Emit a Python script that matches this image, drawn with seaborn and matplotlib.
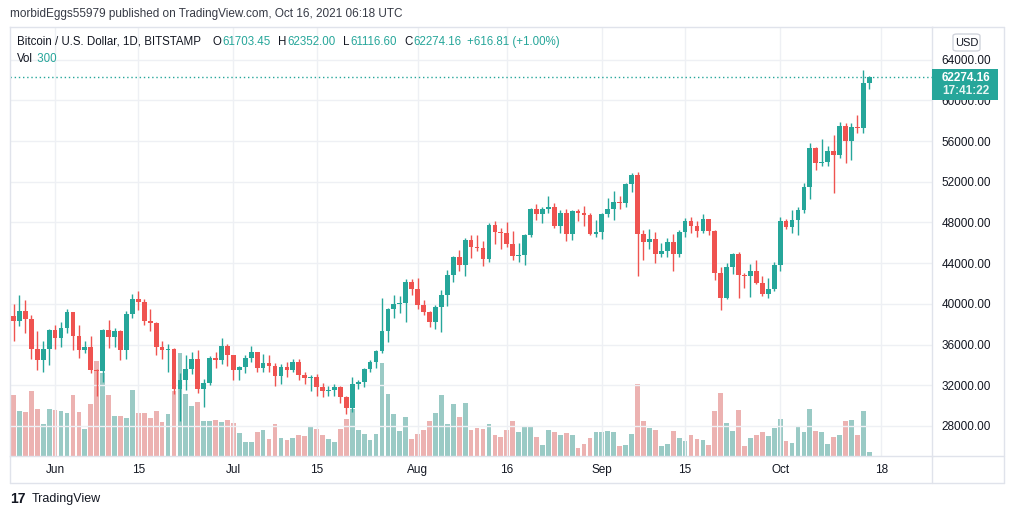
import numpy as np
import pandas as pd
import matplotlib
matplotlib.use("Agg")
import matplotlib.pyplot as plt
from matplotlib.patches import Rectangle, FancyBboxPatch
from matplotlib.lines import Line2D
import seaborn as sns

# BTC/USD daily candles, Bitstamp, 2021-05-25 .. 2021-10-16
start_date = "2021-05-25"
end_date = "2021-10-16"

opens = [
    38800, 38300, 39300, 38500, 35600, 34500, 35600,
    37400, 36600, 37600, 39200, 36800, 35500, 35800, 33500, 33400, 37400, 36700, 37300, 35500, 39000, 40500,
    40200, 38300, 38100, 35800, 35500, 35600, 31600, 32500, 33600, 34600, 31600, 32200, 34700, 34500, 35900,
    35000, 33500, 33800, 34700, 35300, 33700, 34200, 33900, 32900, 33800, 33500, 34300, 33000, 32700, 32800,
    31800, 31400, 31500, 31800, 30800, 29800, 32100, 32300, 33600, 34300, 35400, 37300, 39500, 40000, 40050, 42200,
    41500, 39900, 39200, 38200, 39700, 40900, 42800, 44600, 43800, 46300, 45600, 45500, 44400, 47800, 47100,
    47000, 45900, 44700, 44800, 46800, 49300, 48800, 49300, 49500, 47700, 48900, 46900, 49100, 48900, 48700, 46900,
    47100, 48800, 49300, 50000, 49900, 51800, 52700, 46900, 46100, 46400, 44900, 45200, 46100, 44900, 47100,
    48100, 47700, 47200, 48300, 47200, 43000, 40600, 43600, 44900, 42800, 42700, 43200, 42100, 41000, 41500,
    43800, 48100, 47600, 48200, 49200, 51500, 55300, 53800, 53900, 55000, 54600, 57500, 56000, 57400, 57300, 61703.45,
]
highs = [
    40000, 40900, 40400, 38900, 37300, 36400, 37500,
    37900, 38200, 39500, 39250, 37900, 36400, 36800, 33600, 37500, 38400, 37600, 37400, 39300, 41000, 41300,
    40500, 39500, 38200, 36400, 36100, 35700, 33200, 35000, 35300, 35500, 32600, 34900, 35300, 36600, 36100,
    35000, 33900, 35000, 35900, 35300, 35100, 35000, 34200, 34100, 34300, 34600, 34600, 33300, 33000, 33100,
    32200, 31900, 32100, 31900, 30900, 32800, 32500, 33700, 34500, 35500, 40600, 39600, 40900, 40800, 42400, 42400,
    42500, 40400, 39300, 39900, 41400, 43300, 44700, 45300, 46500, 46750, 46750, 46150, 47950, 48150, 47450,
    48050, 47200, 45950, 46850, 49450, 49800, 49500, 50600, 49900, 49200, 49300, 49200, 49300, 49600, 48950, 48250,
    48950, 50400, 51100, 50600, 51900, 52850, 52950, 47300, 47400, 47050, 45950, 46450, 46850, 47250, 48450,
    48550, 48150, 48800, 48350, 47300, 43600, 44000, 45000, 45100, 43000, 43900, 44300, 42700, 42550, 44100,
    48500, 48300, 49250, 49500, 51900, 55800, 55400, 56200, 55500, 56600, 57900, 57800, 57800, 58600, 63000, 62352.00,
]
lows = [
    36400, 37800, 37100, 34600, 33500, 33300, 34000,
    35600, 35800, 37100, 35500, 34700, 35200, 33200, 30900, 32300, 35700, 35800, 34500, 34600, 38600, 39400,
    37900, 37300, 35000, 34600, 33300, 31100, 28500, 31500, 33100, 31200, 29900, 32000, 33700, 34100, 33900,
    32500, 32500, 33200, 34300, 33300, 33300, 33300, 31950, 32100, 32800, 33300, 32500, 32100, 31400, 30950,
    30850, 30950, 30950, 30300, 29200, 29400, 31600, 31850, 33300, 33700, 35200, 36300, 38600, 39100, 38200, 40900,
    39500, 38900, 37700, 37500, 37200, 39800, 42200, 43200, 42700, 44500, 45200, 43700, 44100, 45900, 45400,
    45600, 44300, 44100, 43800, 46600, 48250, 47950, 48950, 47450, 46950, 46150, 46250, 48150, 47650, 46750, 46550,
    46350, 48550, 48250, 49300, 49500, 51000, 42700, 44300, 45400, 44000, 44600, 44600, 43200, 44600, 46550,
    46950, 46550, 46950, 46750, 42350, 39400, 40500, 42900, 40600, 41600, 40700, 41950, 40800, 40600, 41300,
    43200, 47350, 46950, 46750, 48950, 50300, 53150, 53550, 53550, 50900, 54350, 53850, 54150, 56800, 56800, 61116.60,
]
closes = [
    38300, 39300, 38500, 35600, 34500, 35600, 37400,
    36600, 37600, 39200, 36800, 35500, 35800, 33500, 33400, 37400, 36700, 37300, 35500, 39000, 40500, 40200,
    38300, 38100, 35800, 35500, 35600, 31600, 32500, 33600, 34600, 31600, 32200, 34700, 34500, 35900, 35000,
    33500, 33800, 34700, 35300, 33700, 34200, 33900, 32900, 33800, 33500, 34300, 33000, 32700, 32800, 31800,
    31400, 31500, 31800, 30800, 29800, 32100, 32300, 33600, 34300, 35400, 37300, 39500, 40000, 40050, 42200, 41500,
    39900, 39200, 38200, 39700, 40900, 42800, 44600, 43800, 46300, 45600, 45500, 44400, 47800, 47100, 47000,
    45900, 44700, 44800, 46800, 49300, 48800, 49300, 49500, 47700, 48900, 46900, 49100, 48900, 48700, 46900, 47100,
    48800, 49300, 50000, 49900, 51800, 52700, 46900, 46100, 46400, 44900, 45200, 46100, 44900, 47100, 48100,
    47700, 47200, 48300, 47200, 43000, 40600, 43600, 44900, 42800, 42700, 43200, 42100, 41000, 41500, 43800,
    48100, 47600, 48200, 49200, 51500, 55300, 53800, 53900, 55000, 54600, 57500, 56000, 57400, 57300, 61703.45, 62274.16,
]
volumes = [
    4575, 3375, 3300, 4875, 3525, 2400, 3525, 3450, 3375, 3225, 4575, 3300, 2025, 3900, 7125, 6225, 4575,
    3000, 3000, 2850, 4950, 3225, 3225, 2850, 3375,
    2550, 3150, 4875, 7725, 4650, 3750, 4050, 2625, 2625, 2700, 2550, 2700, 2475, 1725, 1050, 1050, 1800,
    1950, 1275, 2400, 1350, 1200, 1350, 1575, 1500, 2250,
    2025, 1575, 1275, 1050, 2025, 2775, 3525, 1950, 1650, 1200, 1650, 6975, 4650, 3150, 1875, 2925, 1275,
    1650, 1950, 2625, 3225, 4575, 2400, 3900, 2925, 3975,
    1950, 2100, 2025, 2400, 1575, 1425, 1950, 2625, 1800, 2250, 2250, 1425, 825, 1950, 1800, 1575, 1725,
    1575, 600, 900, 1350, 1800, 1800, 1875, 1800, 750,
    825, 1650, 5400, 2625, 2100, 1950, 750, 900, 1875, 1350, 1125, 1575, 1275, 1200, 825, 3375, 4725, 2475,
    1875, 3450, 750, 1350, 1575, 1800, 1500, 2100,
    2775, 1125, 975, 2175, 1800, 3525, 1875, 1800, 900, 1425, 1575, 2625, 2700, 1575, 3375, 300,
]

tick_dates = ["2021-06-01", "2021-06-15", "2021-07-01", "2021-07-15", "2021-08-01",
              "2021-08-16", "2021-09-01", "2021-09-15", "2021-10-01", "2021-10-18"]
tick_labels = ["Jun", "15", "Jul", "15", "Aug", "16", "Sep", "15", "Oct", "18"]
price_ticks = [28000, 32000, 36000, 40000, 44000, 48000, 52000, 56000, 60000, 64000]

UP = "#26a69a"
DOWN = "#ef5350"
TXT = "#131722"
BORDER = "#e0e3eb"

dates = pd.date_range(start_date, end_date, freq="D")
df = pd.DataFrame({"date": dates, "open": opens, "high": highs, "low": lows,
                   "close": closes, "vol": volumes})
df["i"] = (df["date"] - dates[0]).dt.days
df["dir"] = np.where(df["close"] >= df["open"], "up", "down")
colors = [UP if d == "up" else DOWN for d in df["dir"]]

sns.set_theme(style="white")
plt.rcParams["font.family"] = ["Liberation Sans", "DejaVu Sans"]

W, H = 1012, 519
fig = plt.figure(figsize=(W / 100, H / 100), dpi=100)
fig.patch.set_facecolor("white")


def fx(x):
    return x / W


def fy(y):
    return 1 - y / H


ax = fig.add_axes([fx(10), fy(456), (932 - 10) / W, (456 - 27) / H])
ax2 = ax.twinx()

# volume histogram (behind candles)
sns.barplot(data=df, x="i", y="vol", hue="dir", palette={"up": UP, "down": DOWN},
            native_scale=True, dodge=False, errorbar=None, width=0.8, alpha=0.5,
            linewidth=0, legend=False, ax=ax2)
ax2.set_ylim(0, 429 * 75)
ax2.set_yticks([])
ax2.set_ylabel("")
ax2.set_xlabel("")
for s in ax2.spines.values():
    s.set_visible(False)

ax.set_zorder(ax2.get_zorder() + 1)
ax.patch.set_visible(False)

# candles
ax.vlines(df["i"], df["low"], df["high"], colors=colors, lw=1, zorder=3)
body_low = np.minimum(df["open"], df["close"])
body_h = np.maximum(np.abs(df["close"] - df["open"]), 80)
ax.bar(df["i"], body_h, bottom=body_low, width=0.8, color=colors, lw=0, zorder=4)

ax.axhline(closes[-1], color=UP, ls=(0, (1, 2)), lw=1, zorder=2)

ax.set_ylim(25050, 67214)
ax.set_xlim(-0.59, 154.55)

tick_idx = [(pd.Timestamp(d) - dates[0]).days for d in tick_dates]
ax.set_xticks(tick_idx)
ax.set_xticklabels(tick_labels)
ax.set_yticks(price_ticks)
ax.set_yticklabels([f"{p:.2f}" for p in price_ticks])
ax.yaxis.tick_right()
ax.tick_params(axis="y", length=0, pad=7, labelsize=8.5, labelcolor=TXT)
ax.tick_params(axis="x", length=0, pad=6, labelsize=8.5, labelcolor=TXT)
ax.grid(True, color="#eef0f4", lw=1, zorder=0)
ax.set_axisbelow(True)
for s in ax.spines.values():
    s.set_color(BORDER)
    s.set_linewidth(1)

# widget frame
frame = [((932, 1004), (27, 27)), ((932, 1004), (456, 456)), ((1004, 1004), (27, 483)),
         ((10, 1004), (483, 483)), ((10, 10), (456, 483)), ((932, 932), (456, 483))]
for (xa, xb), (ya, yb) in frame:
    fig.add_artist(Line2D([fx(xa), fx(xb)], [fy(ya), fy(yb)], transform=fig.transFigure,
                          color=BORDER, lw=1))

# last price label
fig.add_artist(Rectangle((fx(932), fy(100)), 66 / W, 31 / H, transform=fig.transFigure,
                         facecolor=UP, edgecolor="none", zorder=10))
fig.text(fx(966), fy(78), "62274.16", color="white", fontsize=8.5, fontweight="bold",
         ha="center", va="center", zorder=11)
fig.text(fx(966), fy(91), "17:41:22", color="#e6f5f3", fontsize=8.5, fontweight="bold",
         ha="center", va="center", zorder=11)

# currency badge
fig.add_artist(FancyBboxPatch((fx(953), fy(51)), 27 / W, 17 / H, transform=fig.transFigure,
                              boxstyle="round,pad=0,rounding_size=0.004", facecolor="white",
                              edgecolor="#d1d4dc", lw=1, zorder=10))
fig.text(fx(966.5), fy(42.5), "USD", color=TXT, fontsize=8, ha="center", va="center", zorder=11)

# header and legend
fig.text(fx(10), fy(14), "morbidEggs55979 published on TradingView.com, Oct 16, 2021 06:18 UTC",
         color="#363a45", fontsize=8.5, ha="left", va="center")

renderer = fig.canvas.get_renderer()


def label_value(x, y, label, value, size=8.3):
    t = fig.text(fx(x), fy(y), label, color=TXT, fontsize=size, ha="left", va="center")
    x1 = t.get_window_extent(renderer).x1
    fig.text(x1 / W + 1 / W, fy(y), value, color=UP, fontsize=size, ha="left", va="center")


fig.text(fx(17), fy(42), "Bitcoin / U.S. Dollar, 1D, BITSTAMP", color=TXT, fontsize=8.3,
         ha="left", va="center")
label_value(213, 42, "O", "61703.45")
label_value(278, 42, "H", "62352.00")
label_value(343, 42, "L", "61116.60")
label_value(404, 42, "C", "62274.16")
fig.text(fx(467), fy(42), "+616.81 (+1.00%)", color=UP, fontsize=8.3, ha="left", va="center")
label_value(17, 59, "Vol", " 300")

# footer logo
fig.text(fx(10), fy(499), "17", color=TXT, fontsize=10, fontweight="bold", ha="left", va="center")
fig.text(fx(32), fy(499), "TradingView", color=TXT, fontsize=9, ha="left", va="center")

fig.savefig("out.png", dpi=100)
